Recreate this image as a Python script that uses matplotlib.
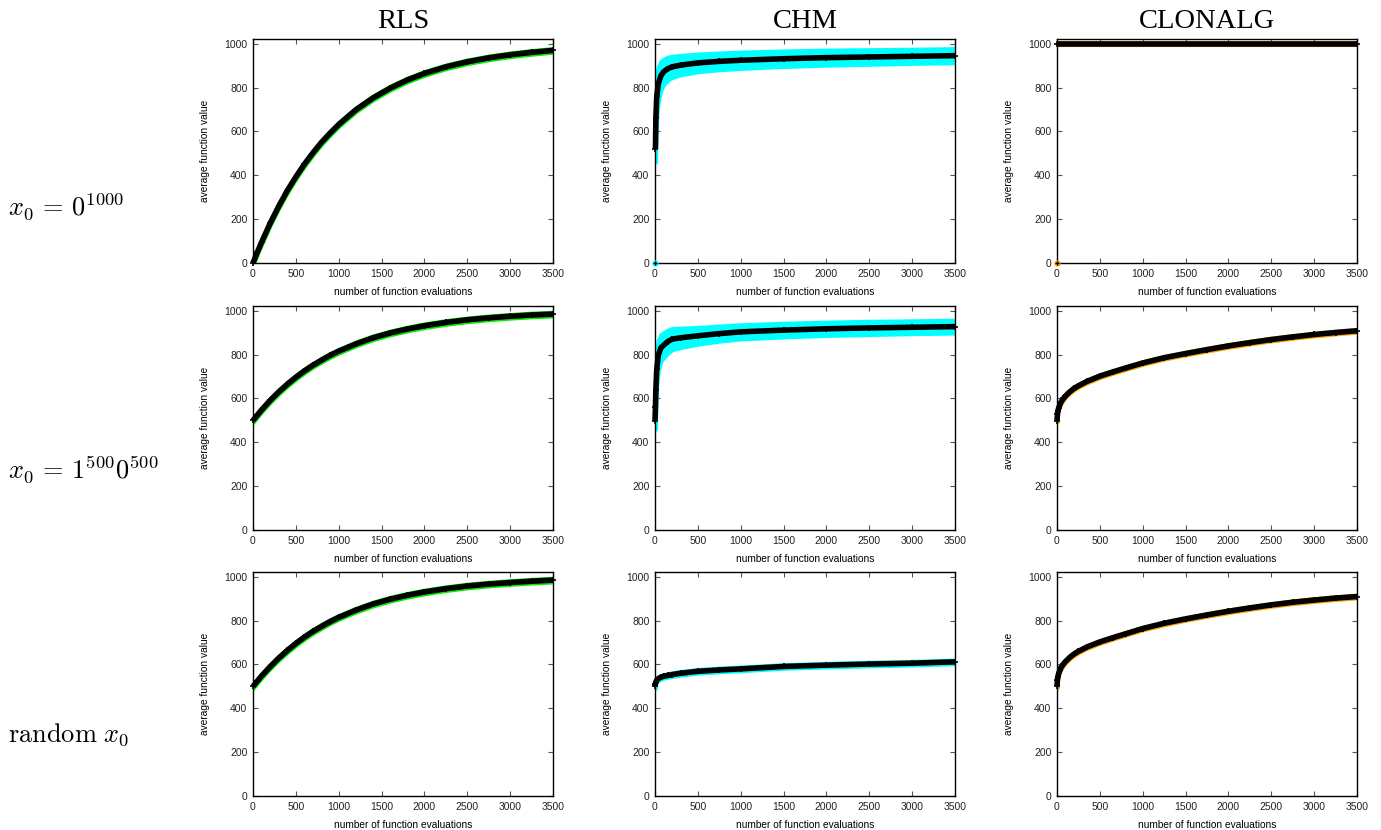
import matplotlib
matplotlib.use("Agg")
import matplotlib.pyplot as plt

plt.rcParams['font.family'] = ['Liberation Sans', 'DejaVu Sans']
plt.rcParams['mathtext.fontset'] = 'cm'

# evaluation grids
x_rls = [0, 50, 100, 200, 300, 400, 500, 600, 700, 800, 900, 1000, 1200, 1400,
         1600, 1800, 2000, 2250, 2500, 2750, 3000, 3250, 3500]
x_chm = [0, 5, 10, 20, 40, 70, 100, 150, 200, 300, 500, 750, 1000, 1500,
         2000, 2500, 3000, 3500]
x_clo = [0, 5, 10, 20, 35, 50, 75, 100, 150, 200, 250, 350, 500, 650, 800, 1000,
         1250, 1500, 1750, 2000, 2250, 2500, 2750, 3000, 3250, 3500]
x_clo_flat = [0, 1, 3500]

# RLS
rls_zero = [0, 49, 95, 181, 259, 330, 393, 451, 503, 551, 593, 632, 699, 753,
            798, 835, 865, 895, 918, 936, 950, 961, 970]
rls_half = [500, 524, 548, 591, 630, 665, 697, 726, 752, 775, 797, 816, 849, 877,
            899, 917, 932, 947, 959, 968, 975, 981, 985]
rls_rand = [500, 524, 548, 590, 629, 664, 696, 725, 751, 774, 796, 815, 848, 876,
            898, 916, 931, 946, 958, 967, 974, 980, 985]
rls_err = [8] * len(x_rls)

# CHM
chm_zero = [0, 520, 660, 760, 820, 855, 872, 887, 895, 903, 913, 920, 925, 932,
            937, 940, 943, 946]
chm_zero_err = [0, 60, 90, 90, 75, 65, 58, 52, 48, 44, 40, 38, 37, 35, 34, 33, 32, 32]
chm_half = [498, 560, 640, 734, 800, 832, 843, 860, 871, 877, 886, 896, 904, 912,
            918, 922, 925, 928]
chm_half_err = [40, 60, 80, 75, 65, 60, 57, 52, 48, 44, 38, 34, 32, 31, 30, 30, 29, 29]
chm_rand = [500, 512, 520, 528, 536, 542, 546, 550, 554, 560, 569, 575, 580, 591,
            597, 602, 606, 612]
chm_rand_err = [10, 8, 8, 8, 8, 8, 8, 8, 8, 8, 8, 8, 8, 8, 8, 8, 8, 8]

# CLONALG
clo_zero = [0, 1000, 1000]
clo_zero_err = [0, 5, 5]
clo_half = [498, 528, 543, 558, 573, 586, 600, 612, 631, 646, 658, 678, 702, 721,
            739, 762, 786, 805, 823, 840, 855, 869, 881, 892, 901, 909]
clo_rand = [500, 530, 545, 560, 575, 588, 602, 614, 633, 648, 660, 680, 703, 722,
            740, 764, 788, 808, 826, 843, 858, 872, 884, 894, 903, 910]
clo_err = [6] * len(x_clo)

col_titles = ['RLS', 'CHM', 'CLONALG']
row_labels = [r'$x_0\,=\,0^{1000}$', r'$x_0\,=\,1^{500}0^{500}$', r'$\mathrm{random}\ x_0$']
band_colors = ['#00ee00', '#00ffff', '#ffa500']

panels = [
    [(x_rls, rls_zero, rls_err), (x_chm, chm_zero, chm_zero_err), (x_clo_flat, clo_zero, clo_zero_err)],
    [(x_rls, rls_half, rls_err), (x_chm, chm_half, chm_half_err), (x_clo, clo_half, clo_err)],
    [(x_rls, rls_rand, rls_err), (x_chm, chm_rand, chm_rand_err), (x_clo, clo_rand, clo_err)],
]

W, H = 1381, 830
fig = plt.figure(figsize=(W / 100, H / 100), dpi=100)

lefts = [253, 655, 1057]
tops = [39, 306, 572]
aw, ah = 300, 224

for r in range(3):
    for c in range(3):
        ax = fig.add_axes([lefts[c] / W, 1 - (tops[r] + ah) / H, aw / W, ah / H])
        xs, ys, es = panels[r][c]
        lo = [y - e for y, e in zip(ys, es)]
        hi = [y + e for y, e in zip(ys, es)]
        # first point of the all-zeros start is drawn on its own (no jump line)
        start = 1 if (r == 0 and c > 0) else 0
        ax.fill_between(xs[start:], lo[start:], hi[start:], color=band_colors[c],
                        lw=3.0, zorder=2)
        ax.plot(xs[start:], ys[start:], color='black', lw=4.0, marker='+', ms=4,
                mew=1.2, solid_capstyle='butt', zorder=3, clip_on=False)
        if start:
            ax.plot(xs[:1], ys[:1], 'o', color=band_colors[c], ms=3.5, zorder=5,
                    clip_on=False)
            ax.plot(xs[:1], ys[:1], '+', color='black', ms=3, mew=1, zorder=6,
                    clip_on=False)
        ax.set_xlim(0, 3500)
        ax.set_ylim(0, 1022)
        ax.set_xticks(range(0, 3501, 500))
        ax.set_yticks(range(0, 1001, 200))
        ax.tick_params(direction='in', top=True, right=True, length=3.5,
                       width=0.8, color='#555555', labelsize=7.5, pad=4,
                       labelcolor='#222222')
        for s in ax.spines.values():
            s.set_linewidth(1.0)
        ax.set_xlabel('number of function evaluations', fontsize=7.3, labelpad=6)
        ax.set_ylabel('average function value', fontsize=7.3, labelpad=10)

for c in range(3):
    fig.text((lefts[c] + aw / 2) / W, 1 - 22 / H, col_titles[c],
             family='Liberation Serif', fontsize=20.5, ha='center', va='center')

row_y = [207, 470, 735]
for r in range(3):
    fig.text(8 / W, 1 - row_y[r] / H, row_labels[r], fontsize=19,
             ha='left', va='center')

fig.savefig('out.png', dpi=100)
